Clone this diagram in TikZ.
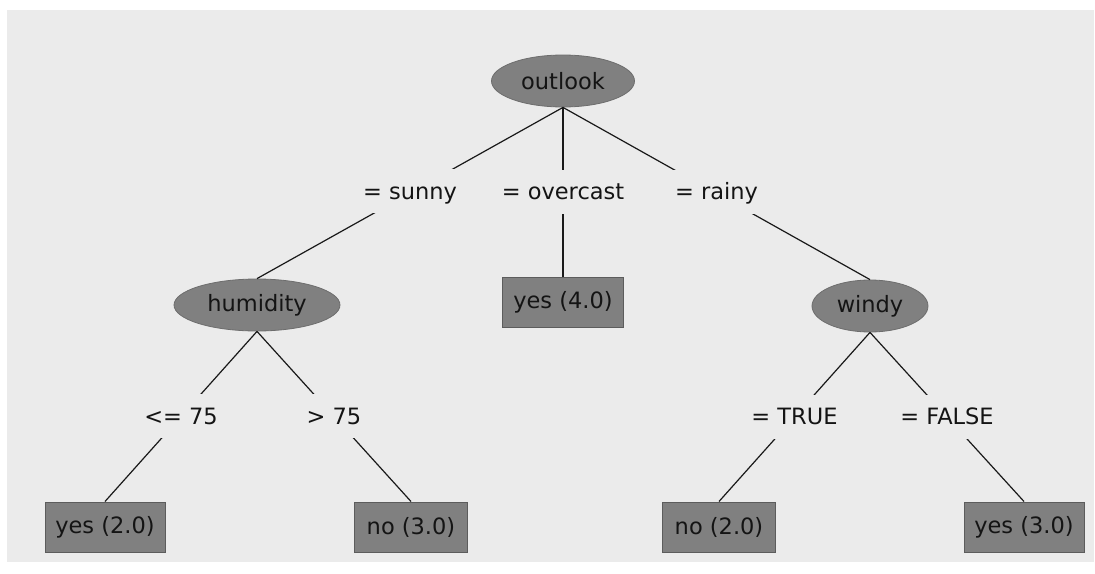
\documentclass[tikz,border=0pt]{standalone}
\usepackage{fontspec}
\setmainfont{DejaVu Sans}
\usetikzlibrary{shapes.geometric}
\definecolor{bgc}{HTML}{EBEBEB}
\definecolor{nodefill}{HTML}{808080}
\definecolor{nodeedge}{HTML}{5C5C5C}
\definecolor{txt}{HTML}{141414}
\tikzset{
  treefont/.style={font=\fontsize{22.5}{26}\selectfont, text=txt},
  inner/.style={ellipse, fill=nodefill, draw=nodefill!85!black, line width=0.8pt, inner sep=0pt, treefont},
  leaf/.style={rectangle, fill=nodefill, draw=nodeedge, line width=1pt, minimum height=50pt, inner sep=0pt, treefont},
  lbl/.style={fill=bgc, inner xsep=3pt, minimum height=44pt, treefont, text depth=0pt, text height=16pt},
  conn/.style={line width=1.2pt, draw=black!90}
}
\begin{document}
\begin{tikzpicture}[x=1pt, y=-1pt]
\useasboundingbox (0,0) rectangle (1095,573);
\fill[white] (0,0) rectangle (1095,573);
\fill[bgc] (7,10) rectangle (1094,562);

\node[inner, minimum width=143pt, minimum height=52pt] (outlook) at (563,81) {outlook};
\node[inner, minimum width=166pt, minimum height=52pt] (humidity) at (257,305) {humidity};
\node[inner, minimum width=116pt, minimum height=52pt] (windy) at (870,306) {windy};

\node[leaf, minimum width=121pt] (yes4) at (563,302) {yes (4.0)};
\node[leaf, minimum width=120pt] (yes2) at (105,527) {yes (2.0)};
\node[leaf, minimum width=113pt] (no3) at (411,527) {no (3.0)};
\node[leaf, minimum width=113pt] (no2) at (719,527) {no (2.0)};
\node[leaf, minimum width=120pt] (yes3) at (1024,527) {yes (3.0)};

\draw[conn] (outlook.south) -- node[lbl, yshift=2pt] (lsunny) {= sunny} (humidity.north);
\draw[conn] (outlook.south) -- node[lbl] (lover) {= overcast} (yes4.north);
\draw[conn] (outlook.south) -- node[lbl, yshift=2pt] (lrainy) {= rainy} (windy.north);
\draw[conn] (humidity.south) -- node[lbl] (lle) {<= 75} (yes2.north);
\draw[conn] (humidity.south) -- node[lbl] (lgt) {> 75} (no3.north);
\draw[conn] (windy.south) -- node[lbl] (ltrue) {= TRUE} (no2.north);
\draw[conn] (windy.south) -- node[lbl] (lfalse) {= FALSE} (yes3.north);
\end{tikzpicture}
\end{document}
